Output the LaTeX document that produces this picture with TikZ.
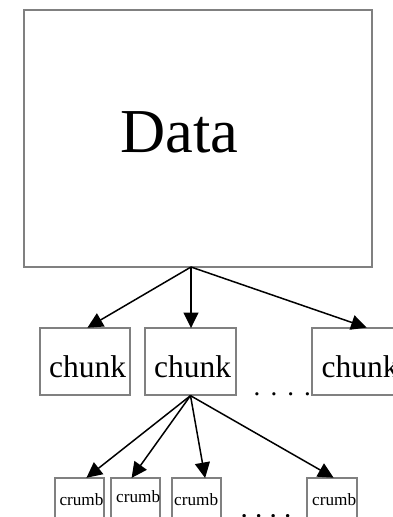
\documentclass[tikz,border=0pt]{standalone}
\usepackage{fontspec}
\setmainfont{Liberation Serif}
\usetikzlibrary{arrows.meta}
\begin{document}
\begin{tikzpicture}[x=1pt,y=1pt,
  box/.style={draw=black!50, line width=1.3pt, rectangle, inner sep=0pt},
  lbl/.style={anchor=base west, inner sep=0pt},
  arr/.style={draw=black, line width=1.5pt, -{Triangle[length=15.5pt,width=15pt]}, shorten >=-0.7pt}]
  \useasboundingbox (0,0) rectangle (393,517);
  \clip (0,0) rectangle (393,517);

  % top-level block
  \node[box, minimum width=348pt, minimum height=257pt] (data) at (198,378.5) {};
  \node[lbl, font=\fontsize{62.5}{62.5}\selectfont] (datatxt) at (120,364) {Data};

  % chunk row
  \node[box, minimum width=90pt, minimum height=67pt] (c1) at (85,155.5) {};
  \node[box, minimum width=91pt, minimum height=67pt] (c2) at (190.5,155.5) {};
  \node[box, minimum width=90pt, minimum height=67pt] (c3) at (357,155.5) {};
  \node[lbl, font=\fontsize{31.5}{31.5}\selectfont] (c1txt) at (49,139) {chunk};
  \node[lbl, font=\fontsize{31.5}{31.5}\selectfont] (c2txt) at (154,139) {chunk};
  \node[lbl, font=\fontsize{31.5}{31.5}\selectfont] (c3txt) at (321.5,139) {chunk};
  \node[lbl, font=\fontsize{27}{27}\selectfont] (cdots) at (253.5,121) {.\hspace{10.1pt}.\hspace{10.1pt}.\hspace{10.1pt}.};

  % crumb row
  \node[box, minimum width=49pt, minimum height=60pt] (k1) at (79.5,9) {};
  \node[box, minimum width=49pt, minimum height=60pt] (k2) at (135.5,9) {};
  \node[box, minimum width=49pt, minimum height=60pt] (k3) at (196.5,9) {};
  \node[box, minimum width=50pt, minimum height=60pt] (k4) at (332,9) {};
  \node[lbl, font=\fontsize{17.2}{17.2}\selectfont] (k1txt) at (59.3,12) {crumb};
  \node[lbl, font=\fontsize{17.2}{17.2}\selectfont] (k2txt) at (116,14) {crumb};
  \node[lbl, font=\fontsize{17.2}{17.2}\selectfont] (k3txt) at (174,12) {crumb};
  \node[lbl, font=\fontsize{17.2}{17.2}\selectfont] (k4txt) at (312,12) {crumb};
  \node[lbl, font=\fontsize{29}{29}\selectfont] (kdots) at (240.4,-1) {.\hspace{7.25pt}.\hspace{7.25pt}.\hspace{7.25pt}.};

  % connectors
  \coordinate (hub1) at (191,250);
  \draw[arr] (hub1) -- ([xshift=3pt]c1.north);
  \draw[arr] (hub1) -- ([xshift=0.5pt]c2.north);
  \draw[arr] (hub1) -- ([xshift=9pt]c3.north);

  \coordinate (hub2) at (c2.south);
  \draw[arr] (hub2) -- ([xshift=7.5pt]k1.north);
  \draw[arr] (hub2) -- ([xshift=-3.5pt]k2.north);
  \draw[arr] (hub2) -- ([xshift=8.5pt]k3.north);
  \draw[arr] (hub2) -- ([xshift=1pt]k4.north);
\end{tikzpicture}
\end{document}
